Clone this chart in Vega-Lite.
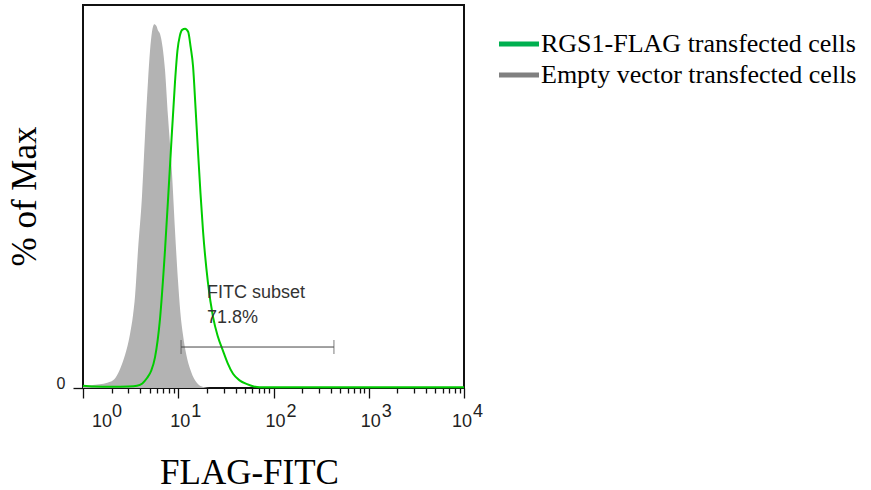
{
  "$schema": "https://vega.github.io/schema/vega-lite/v6.json",
  "width": 381,
  "height": 383,
  "autosize": "none",
  "padding": {"left": 83, "top": 5, "right": 407, "bottom": 102},
  "background": "white",
  "config": {
    "view": {"stroke": "#111", "strokeWidth": 2},
    "font": "Liberation Sans"
  },
  "datasets": {
    "empty": [
      {"x": 1, "y": 0.4}, {"x": 1.2, "y": 0.7}, {"x": 1.5, "y": 1.0}, {"x": 1.8, "y": 1.4},
      {"x": 2.07, "y": 2.0}, {"x": 2.33, "y": 3.8}, {"x": 2.63, "y": 7}, {"x": 2.9, "y": 10.5},
      {"x": 3.11, "y": 14}, {"x": 3.35, "y": 19}, {"x": 3.52, "y": 24}, {"x": 3.78, "y": 36},
      {"x": 4.16, "y": 50}, {"x": 4.48, "y": 66}, {"x": 4.81, "y": 80}, {"x": 5.05, "y": 88},
      {"x": 5.3, "y": 93}, {"x": 5.6, "y": 95}, {"x": 5.9, "y": 94.5}, {"x": 6.1, "y": 93.5},
      {"x": 6.43, "y": 92.5}, {"x": 6.85, "y": 89}, {"x": 7.26, "y": 83}, {"x": 7.8, "y": 71},
      {"x": 8.6, "y": 56}, {"x": 9.25, "y": 41}, {"x": 9.94, "y": 28}, {"x": 10.5, "y": 20},
      {"x": 11.2, "y": 14}, {"x": 12.2, "y": 8.5}, {"x": 13.3, "y": 5}, {"x": 15.0, "y": 2},
      {"x": 16.9, "y": 0.6}, {"x": 19, "y": 0.2}, {"x": 21.5, "y": 0}, {"x": 10000, "y": 0}
    ],
    "rgs1": [
      {"x": 1, "y": 0.6}, {"x": 1.3, "y": 0.4}, {"x": 2, "y": 0.3}, {"x": 3, "y": 0.4},
      {"x": 3.69, "y": 0.6}, {"x": 4.2, "y": 1.2}, {"x": 4.7, "y": 2.6}, {"x": 5.2, "y": 4.5},
      {"x": 5.7, "y": 8}, {"x": 6.43, "y": 18}, {"x": 7.26, "y": 36}, {"x": 8.19, "y": 58},
      {"x": 9.25, "y": 80}, {"x": 9.8, "y": 88}, {"x": 10.4, "y": 92}, {"x": 11.0, "y": 93.5},
      {"x": 11.8, "y": 93.8}, {"x": 12.7, "y": 93}, {"x": 13.5, "y": 89}, {"x": 14.3, "y": 84},
      {"x": 15.2, "y": 73}, {"x": 16.1, "y": 62}, {"x": 17.1, "y": 51}, {"x": 18.2, "y": 41},
      {"x": 20.5, "y": 27.5}, {"x": 23.2, "y": 18.5}, {"x": 26, "y": 13.5}, {"x": 29.5, "y": 9.7},
      {"x": 33, "y": 6.5}, {"x": 37.6, "y": 3.7}, {"x": 44, "y": 2}, {"x": 52.7, "y": 1},
      {"x": 62, "y": 0.4}, {"x": 72, "y": 0.2}, {"x": 10000, "y": 0.2}
    ],
    "gate": [{"x": 10.7, "x2": 431, "y": 10.7}],
    "notes": [
      {"x": 20, "y": 23.5, "label": "FITC subset"},
      {"x": 20, "y": 17, "label": "71.8%"}
    ],
    "decades": [
      {"x": 1, "e": "0"}, {"x": 10, "e": "1"}, {"x": 100, "e": "2"},
      {"x": 1000, "e": "3"}, {"x": 10000, "e": "4"}
    ],
    "series": [
      {"series": "RGS1-FLAG transfected cells"},
      {"series": "Empty vector transfected cells"}
    ]
  },
  "layer": [
    {
      "data": {"name": "empty"},
      "mark": {"type": "area", "color": "#b3b3b3", "interpolate": "monotone"},
      "encoding": {
        "x": {
          "field": "x",
          "type": "quantitative",
          "scale": {"type": "log", "domain": [1, 10000], "nice": false},
          "axis": {
            "values": [1, 2, 3, 4, 5, 6, 7, 8, 9, 10, 20, 30, 40, 50, 60, 70, 80, 90, 100, 200, 300, 400, 500, 600, 700, 800, 900, 1000, 2000, 3000, 4000, 5000, 6000, 7000, 8000, 9000, 10000],
            "labels": false,
            "domain": false,
            "grid": false,
            "tickColor": "#111",
            "tickWidth": 1.3,
            "tickSize": {"condition": {"test": "indexof([1, 10, 100, 1000, 10000], datum.value) >= 0", "value": 10}, "value": 5},
            "title": "FLAG-FITC",
            "titleFont": "Liberation Serif",
            "titleFontSize": 35,
            "titleFontWeight": "normal",
            "titleColor": "black",
            "titleX": 166,
            "titleY": 95,
            "titleBaseline": "alphabetic",
            "titleAlign": "center"
          }
        },
        "y": {
          "field": "y",
          "type": "quantitative",
          "scale": {"domain": [0, 100], "nice": false},
          "axis": {
            "values": [0],
            "domain": false,
            "grid": false,
            "tickSize": 10,
            "tickColor": "#111",
            "tickWidth": 1.3,
            "labelFont": "Liberation Sans",
            "labelFontSize": 16,
            "labelColor": "#222",
            "labelBaseline": "alphabetic",
            "labelPadding": 8,
            "title": "% of Max",
            "titleFont": "Liberation Serif",
            "titleFontSize": 35,
            "titleFontWeight": "normal",
            "titleColor": "black",
            "titleX": -48,
            "titleY": 191,
            "titleBaseline": "alphabetic",
            "titleAngle": -90,
            "titleAlign": "center"
          }
        }
      }
    },
    {
      "data": {"name": "rgs1"},
      "mark": {"type": "line", "color": "#00cc00", "strokeWidth": 2, "interpolate": "monotone"},
      "encoding": {
        "x": {"field": "x", "type": "quantitative"},
        "y": {"field": "y", "type": "quantitative"}
      }
    },
    {
      "data": {"name": "gate"},
      "mark": {"type": "rule", "color": "#444", "strokeWidth": 1},
      "encoding": {
        "x": {"field": "x", "type": "quantitative"},
        "x2": {"field": "x2"},
        "y": {"field": "y", "type": "quantitative"}
      }
    },
    {
      "data": {"name": "gate"},
      "transform": [{"fold": ["x", "x2"], "as": ["end", "xe"]}],
      "mark": {"type": "tick", "orient": "vertical", "color": "#444", "thickness": 1, "size": 14},
      "encoding": {
        "x": {"field": "xe", "type": "quantitative"},
        "y": {"field": "y", "type": "quantitative"}
      }
    },
    {
      "data": {"name": "notes"},
      "mark": {"type": "text", "align": "left", "baseline": "alphabetic", "font": "Liberation Sans", "fontSize": 18, "color": "#333"},
      "encoding": {
        "x": {"field": "x", "type": "quantitative"},
        "y": {"field": "y", "type": "quantitative"},
        "text": {"field": "label"}
      }
    },
    {
      "data": {"name": "decades"},
      "mark": {
        "type": "text", "align": "left", "baseline": "alphabetic",
        "font": "Liberation Sans", "fontSize": 18, "color": "#222",
        "dy": 39,
        "dx": {"expr": "datum.x == 1 ? 9 : datum.x == 10000 ? -12 : -8"}
      },
      "encoding": {
        "x": {"field": "x", "type": "quantitative"},
        "y": {"datum": 0, "type": "quantitative"},
        "text": {"value": "10"}
      }
    },
    {
      "data": {"name": "decades"},
      "mark": {
        "type": "text", "align": "left", "baseline": "alphabetic",
        "font": "Liberation Sans", "fontSize": 18, "color": "#222",
        "dy": 29,
        "dx": {"expr": "datum.x == 1 ? 29 : datum.x == 10000 ? 9 : 13"}
      },
      "encoding": {
        "x": {"field": "x", "type": "quantitative"},
        "y": {"datum": 0, "type": "quantitative"},
        "text": {"field": "e"}
      }
    },
    {
      "data": {"name": "series"},
      "mark": {"type": "point", "opacity": 0},
      "encoding": {
        "x": {"datum": 1, "type": "quantitative"},
        "y": {"datum": 0, "type": "quantitative"},
        "color": {
          "field": "series",
          "type": "nominal",
          "scale": {
            "domain": ["RGS1-FLAG transfected cells", "Empty vector transfected cells"],
            "range": ["#00b050", "#808080"]
          },
          "legend": {
            "orient": "none",
            "legendX": 423,
            "legendY": 26,
            "title": null,
            "symbolType": "M-2,0H2",
            "symbolStrokeWidth": 5,
            "symbolSize": 400,
            "symbolOpacity": 1,
            "labelFont": "Liberation Serif",
            "labelFontSize": 26,
            "labelColor": "black",
            "labelOffset": 9,
            "labelLimit": 400,
            "rowPadding": 5
          }
        }
      }
    }
  ]
}
